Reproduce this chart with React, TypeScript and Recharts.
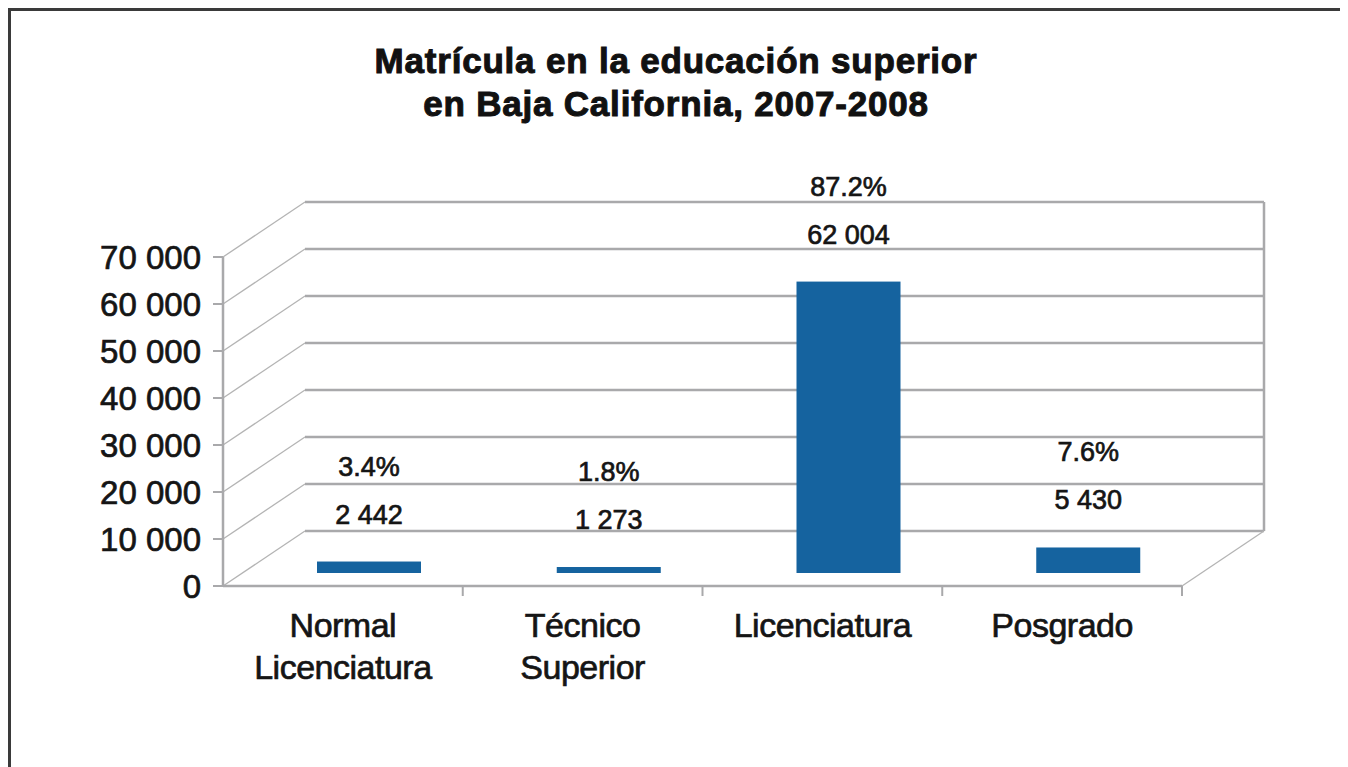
import React from 'react';
import { BarChart, Bar, XAxis, YAxis, CartesianGrid, ReferenceArea, LabelList } from 'recharts';

const categories = ['Normal Licenciatura', 'Técnico Superior', 'Licenciatura', 'Posgrado'];
const enrolment = [2442, 1273, 62004, 5430];
const percents = [3.4, 1.8, 87.2, 7.6];
const yTicks = [0, 10000, 20000, 30000, 40000, 50000, 60000, 70000];

const data = categories.map((name, i) => ({ name, value: enrolment[i], pct: percents[i] }));

// depth offsets for the fake 3D box
const WALL_DX = 82;
const WALL_DY = 55;
const BAR_DX = 26;
const BAR_DY = 13;

const FONT = '"Liberation Sans", Arial, sans-serif';
const GRID = '#a9a9ab';
const BAR_COLOR = '#15639f';

const fmt = (v: number) => String(v).replace(/\B(?=(\d{3})+(?!\d))/g, ' ');

const GridLine = (p: any) => (
    <g key={p.key}>
        <line x1={p.x1} y1={p.y1} x2={p.x1 + WALL_DX} y2={p.y1 - WALL_DY} stroke="#b4b4b4" strokeWidth={1.3} />
        <line x1={p.x1 + WALL_DX} y1={p.y1 - WALL_DY} x2={p.x2 + WALL_DX} y2={p.y2 - WALL_DY} stroke={GRID} strokeWidth={2.5} />
    </g>
);

const Frame = (p: any) => {
    const { x, y, width, height } = p;
    const n = categories.length;
    return (
        <g>
            <line x1={x + width + WALL_DX} y1={y - WALL_DY} x2={x + width + WALL_DX} y2={y + height - WALL_DY} stroke={GRID} strokeWidth={2.5} />
            <line x1={x + width} y1={y + height} x2={x + width + WALL_DX} y2={y + height - WALL_DY} stroke="#b4b4b4" strokeWidth={1.3} />
            {categories.map((_, i) => (
                <line key={i} x1={x + ((i + 1) * width) / n} y1={y + height} x2={x + ((i + 1) * width) / n} y2={y + height + 10} stroke={GRID} strokeWidth={2} />
            ))}
        </g>
    );
};

const BarShape = (p: any) => (
    <rect x={p.x + BAR_DX} y={p.y - BAR_DY} width={p.width} height={p.height} fill={BAR_COLOR} />
);

const BarLabels = (p: any) => {
    const { x, y, width, index } = p;
    const cx = x + width / 2 + BAR_DX;
    const top = y - BAR_DY;
    return (
        <g fontFamily={FONT} fontSize={27} fill="#151515" textAnchor="middle" stroke="#151515" strokeWidth={0.7}>
            <text x={cx} y={top - 38}>{fmt(enrolment[index])}</text>
            <text x={cx} y={top - 86}>{percents[index].toFixed(1)}%</text>
        </g>
    );
};

const CategoryTick = (p: any) => {
    const words = String(p.payload.value).split(' ');
    return (
        <text x={p.x} y={p.y + 51} textAnchor="middle" fontFamily={FONT} fontSize={34} fill="#151515" stroke="#151515" strokeWidth={0.7} letterSpacing={-0.5}>
            {words.map((w, i) => (
                <tspan key={i} x={p.x} dy={i === 0 ? 0 : 42}>{w}</tspan>
            ))}
        </text>
    );
};

const App: React.FC = () => {
    return (
        <div style={{ position: 'relative', width: 1330, height: 800, border: '3px solid #3a3a3a', background: '#fff' }}>
            <div
                style={{
                    position: 'absolute', left: 0, top: 28, width: 1330, textAlign: 'center',
                    fontFamily: FONT, fontWeight: 'bold', fontSize: 35, lineHeight: '43px', color: '#111',
                    letterSpacing: 0.8, WebkitTextStroke: '1px #111',
                }}
            >
                Matrícula en la educación superior
                <br />
                en Baja California, 2007-2008
            </div>
            <BarChart width={1330} height={756} data={data} margin={{ top: 246, right: 159, bottom: 81, left: 0 }}>
                <CartesianGrid vertical={false} horizontal={GridLine} />
                <YAxis
                    width={212}
                    domain={[0, 70000]}
                    ticks={yTicks}
                    tickFormatter={fmt}
                    axisLine={{ stroke: GRID, strokeWidth: 2.5 }}
                    tickLine={{ stroke: GRID, strokeWidth: 2 }}
                    tickSize={10}
                    tickMargin={12}
                    tick={{ fontSize: 33, fill: '#151515', fontFamily: FONT, stroke: '#151515', strokeWidth: 0.7 }}
                />
                <XAxis
                    dataKey="name"
                    height={100}
                    axisLine={{ stroke: GRID, strokeWidth: 2.5 }}
                    tickLine={false}
                    tickSize={0}
                    tickMargin={0}
                    tick={CategoryTick}
                    interval={0}
                />
                <ReferenceArea y1={0} y2={70000} shape={Frame} />
                <Bar dataKey="value" barSize={104} shape={BarShape} isAnimationActive={false}>
                    <LabelList dataKey="value" content={BarLabels} />
                </Bar>
            </BarChart>
        </div>
    );
};

export default App;
